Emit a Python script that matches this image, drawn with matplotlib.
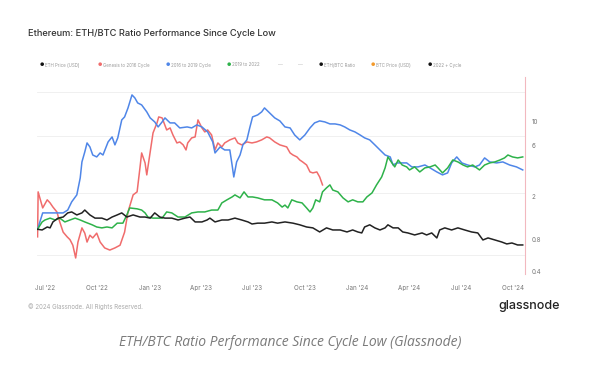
import pandas as pd
import numpy as np
import matplotlib
matplotlib.use('Agg')
import matplotlib.pyplot as plt
import matplotlib.dates as mdates
from matplotlib.ticker import FixedLocator, NullLocator

plt.rcParams['font.family'] = ['Inter', 'DejaVu Sans']

# 사이클 저점(2022-06-18) 이후 경과일 기준 ETH/BTC 비율 (1 = 사이클 저점)
CYCLE_LOW = pd.Timestamp('2022-06-18')

genesis_days = [0, 1, 4, 9, 17, 22, 27, 34, 39, 45, 52, 57, 62, 67, 71, 78, 83, 87, 92, 97,
                104, 110, 118, 127, 136, 145, 153, 159, 168, 175, 180, 183, 189, 192, 198,
                203, 210, 213, 219, 227, 233, 238, 245, 250, 256, 261, 264, 271, 277, 282,
                289, 294, 299, 306, 312, 317, 324, 329, 338, 347, 352, 359, 368, 377, 385,
                394, 403, 408, 417, 426, 438, 444, 449, 456, 461, 466, 473, 479, 484, 491,
                496, 501]
genesis_vals = [0.85, 2.23, 1.96, 1.58, 1.88, 1.76, 1.61, 1.45, 1.17, 0.94, 0.85, 0.80, 0.71,
                0.54, 0.76, 1.03, 0.92, 0.76, 0.88, 0.83, 0.92, 0.76, 0.67, 0.64, 0.67, 0.71,
                0.94, 1.45, 2.09, 2.23, 3.73, 5.14, 4.15, 3.21, 5.25, 7.90, 9.79, 11.13,
                10.90, 8.42, 8.79, 7.56, 6.37, 6.51, 6.11, 5.48, 6.37, 7.10, 7.25, 10.44,
                8.79, 8.07, 8.42, 7.56, 5.48, 6.37, 5.85, 6.37, 6.80, 7.10, 6.37, 6.11, 6.51,
                6.37, 6.51, 6.80, 7.25, 7.10, 6.51, 6.11, 5.85, 5.14, 4.92, 4.72, 4.42, 4.24,
                3.97, 3.42, 3.35, 3.42, 3.07, 2.59]

c2016_days = [0, 9, 45, 53, 60, 69, 75, 78, 83, 87, 92, 97, 104, 110, 115, 124, 131, 136,
              141, 148, 153, 159, 166, 171, 176, 183, 192, 198, 206, 212, 219, 224, 233, 241,
              250, 263, 271, 280, 289, 299, 308, 312, 321, 329, 338, 342, 345, 350, 356, 361,
              368, 373, 378, 387, 394, 399, 408, 417, 426, 435, 444, 452, 461, 470, 479, 487,
              496, 505, 514, 523, 532, 540, 549, 558, 567, 575, 584, 593, 602, 611, 620, 625,
              632, 641, 649, 658, 669, 681, 690, 702, 712, 721, 728, 737, 746, 756, 769, 777,
              786, 795, 807, 818, 830, 842, 853]
c2016_vals = [1.0, 1.42, 1.42, 1.51, 1.80, 2.09, 3.01, 4.24, 5.25, 6.37, 5.85, 4.92, 4.72,
              5.14, 4.92, 6.51, 7.25, 6.11, 7.10, 10.44, 11.13, 13.50, 17.85, 16.74, 15.03,
              14.40, 12.40, 10.90, 10.00, 8.98, 10.00, 10.90, 9.79, 9.79, 8.79, 8.98, 8.79,
              9.38, 8.98, 8.07, 6.51, 5.14, 5.85, 5.48, 5.48, 3.97, 3.07, 4.24, 4.92, 6.11,
              6.80, 8.79, 11.13, 11.62, 12.40, 13.50, 12.13, 10.90, 10.22, 8.98, 8.79, 7.56,
              6.80, 7.56, 8.79, 9.79, 10.22, 10.00, 9.58, 9.58, 9.38, 8.98, 8.42, 8.07, 7.56,
              7.10, 6.80, 6.11, 5.48, 4.92, 4.72, 3.97, 4.15, 4.15, 4.15, 3.81, 3.81, 3.97,
              3.73, 3.42, 3.21, 3.35, 4.15, 4.72, 4.15, 3.97, 3.81, 3.97, 4.62, 4.24, 4.15,
              4.24, 3.97, 3.81, 3.57]

c2019_days = [0, 8, 13, 22, 31, 39, 48, 57, 66, 75, 83, 96, 104, 113, 122, 131, 140, 150,
              157, 162, 175, 183, 189, 194, 203, 212, 219, 227, 236, 247, 259, 271, 282, 294,
              306, 317, 324, 333, 342, 347, 356, 363, 370, 378, 387, 399, 412, 422, 430, 435,
              440, 447, 456, 465, 473, 479, 484, 489, 496, 501, 508, 514, 519, 528, 537, 546,
              554, 563, 572, 579, 588, 596, 605, 611, 616, 623, 628, 634, 641, 649, 654, 663,
              672, 681, 690, 699, 704, 712, 721, 730, 739, 748, 756, 765, 772, 777, 786, 795,
              804, 813, 821, 827, 835, 844, 853]
c2019_vals = [1.0, 1.17, 1.22, 1.27, 1.22, 1.27, 1.17, 1.22, 1.27, 1.22, 1.17, 1.10, 1.05,
              1.03, 1.05, 1.03, 1.14, 1.14, 1.36, 1.58, 1.55, 1.51, 1.42, 1.30, 1.27, 1.27,
              1.27, 1.45, 1.42, 1.30, 1.30, 1.42, 1.45, 1.45, 1.51, 1.51, 1.76, 1.88, 2.00,
              2.09, 1.96, 2.23, 2.00, 2.00, 1.96, 1.88, 1.88, 1.76, 1.61, 1.68, 1.58, 1.88,
              1.80, 1.76, 1.58, 1.45, 1.58, 1.88, 1.80, 2.23, 2.43, 2.59, 2.32, 2.23, 1.96,
              1.80, 1.88, 1.80, 1.80, 2.00, 2.18, 2.59, 3.07, 3.73, 4.72, 4.15, 3.81, 4.42,
              3.97, 3.81, 3.57, 3.81, 3.42, 3.73, 3.81, 3.97, 3.73, 3.35, 3.73, 4.42, 4.24,
              3.97, 3.81, 3.97, 3.73, 3.57, 3.97, 4.15, 4.24, 4.42, 4.62, 4.92, 4.72, 4.62,
              4.72]

c2022_days = [0, 8, 17, 22, 27, 36, 45, 53, 60, 69, 78, 83, 92, 101, 113, 122, 131, 140, 148,
              157, 168, 180, 189, 198, 206, 215, 224, 236, 247, 259, 268, 277, 289, 298, 303,
              312, 324, 335, 347, 359, 370, 377, 387, 399, 412, 422, 435, 449, 461, 473, 484,
              496, 508, 519, 532, 544, 554, 563, 570, 575, 584, 593, 602, 611, 616, 625, 634,
              642, 651, 663, 676, 684, 693, 702, 707, 716, 728, 739, 751, 763, 774, 783, 792,
              804, 816, 825, 834, 844, 853]
c2022_vals = [1.0, 0.985, 1.05, 1.03, 1.17, 1.27, 1.30, 1.42, 1.45, 1.36, 1.42, 1.51, 1.36,
              1.27, 1.27, 1.22, 1.30, 1.36, 1.42, 1.30, 1.36, 1.30, 1.30, 1.27, 1.42, 1.30,
              1.27, 1.27, 1.22, 1.27, 1.30, 1.17, 1.17, 1.22, 1.27, 1.17, 1.22, 1.22, 1.27,
              1.22, 1.17, 1.12, 1.14, 1.14, 1.17, 1.14, 1.17, 1.14, 1.10, 1.05, 1.03, 0.944,
              1.03, 0.985, 0.985, 0.944, 0.985, 0.944, 0.924, 1.05, 1.10, 1.03, 0.985, 1.03,
              1.10, 1.03, 1.03, 0.944, 0.924, 0.885, 0.924, 0.885, 0.924, 0.83, 0.985, 1.03,
              0.985, 1.03, 0.985, 0.944, 0.924, 0.795, 0.83, 0.795, 0.761, 0.73, 0.745, 0.714,
              0.714]

y_ticks = [0.4, 0.8, 2, 6, 10]
y_tick_labels = ['0.4', '0.8', '2', '6', '10']
grid_levels = [0.38, 0.58, 2.2, 7.4, 19]

legend_labels = ['ETH Price (USD)', 'Genesis to 2016 Cycle', '2016 to 2019 Cycle', '2019 to 2022',
                 '', '', 'ETH/BTC Ratio', 'BTC Price (USD)', '2022 + Cycle']
legend_colors = ['#111111', '#f06c6c', '#4f86e8', '#2eb24a', '#bbbbbb', '#bbbbbb',
                 '#111111', '#f39a2b', '#111111']
legend_x = [40, 98, 166, 227, 278, 298, 319, 371, 428]

W, H = 613, 371
fig = plt.figure(figsize=(W / 100, H / 100), dpi=100)
fig.patch.set_facecolor('white')
ax = fig.add_axes([37 / W, 1 - 274 / H, (525 - 37) / W, (274 - 92) / H])


def to_dates(days):
    return CYCLE_LOW + pd.to_timedelta(days, unit='D')


for lvl in grid_levels:
    ax.axhline(lvl, color='#eeeeee', lw=0.6, zorder=0)

ax.plot(to_dates(genesis_days), genesis_vals, color='#f06c6c', lw=1.1)
ax.plot(to_dates(c2016_days), c2016_vals, color='#4f86e8', lw=1.1)
ax.plot(to_dates(c2019_days), c2019_vals, color='#2eb24a', lw=1.1)
ax.plot(to_dates(c2022_days), c2022_vals, color='#222222', lw=1.1)

ax.set_yscale('log')
ax.set_ylim(0.383, 19.0)
ax.set_xlim(CYCLE_LOW - pd.Timedelta(days=1), CYCLE_LOW + pd.Timedelta(days=857))

ax.yaxis.tick_right()
ax.yaxis.set_major_locator(FixedLocator(y_ticks))
ax.yaxis.set_minor_locator(NullLocator())
ax.set_yticklabels(y_tick_labels)
ax.tick_params(axis='y', length=0, pad=5, labelsize=4.5, labelcolor='#777777')

ax.xaxis.set_major_locator(mdates.MonthLocator(bymonth=[1, 4, 7, 10]))
ax.xaxis.set_major_formatter(mdates.DateFormatter("%b '%y"))
ax.tick_params(axis='x', length=0, pad=8, labelsize=4.5, labelcolor='#777777')

for side in ['top', 'left', 'bottom', 'right']:
    ax.spines[side].set_visible(False)
# 오른쪽 붉은 세로선
ax.axvline(ax.get_xlim()[1], ymin=0, ymax=1.08, color='#f2b8bf', lw=0.8, clip_on=False)

# 제목, 범례, 출처
fig.text(28 / W, 1 - 34 / H, 'Ethereum: ETH/BTC Ratio Performance Since Cycle Low',
         fontsize=6.7, color='#333333', va='center', ha='left', fontweight='medium')
for lab, col, x in zip(legend_labels, legend_colors, legend_x):
    if lab:
        fig.text(x / W, 1 - 65 / H, '\u25cf', fontsize=3.5, color=col, va='center', ha='left')
        fig.text((x + 5) / W, 1 - 65 / H, lab, fontsize=3.2, color='#999999', va='center', ha='left')
    else:
        fig.text(x / W, 1 - 65 / H, '\u2014', fontsize=3.5, color=col, va='center', ha='left')

fig.text(28 / W, 1 - 307 / H, '\u00a9 2024 Glassnode. All Rights Reserved.', fontsize=4.4,
         color='#aaaaaa', va='center', ha='left')
fig.text(560 / W, 1 - 306 / H, 'glassnode', fontsize=9, color='#222222', va='center', ha='right',
         fontweight='medium')
fig.text(290 / W, 1 - 343 / H, 'ETH/BTC Ratio Performance Since Cycle Low (Glassnode)',
         fontsize=10, color='#7a7a7a', style='italic', va='center', ha='center',
         family=['Open Sans', 'DejaVu Sans'])

fig.savefig('out.png', dpi=100)
